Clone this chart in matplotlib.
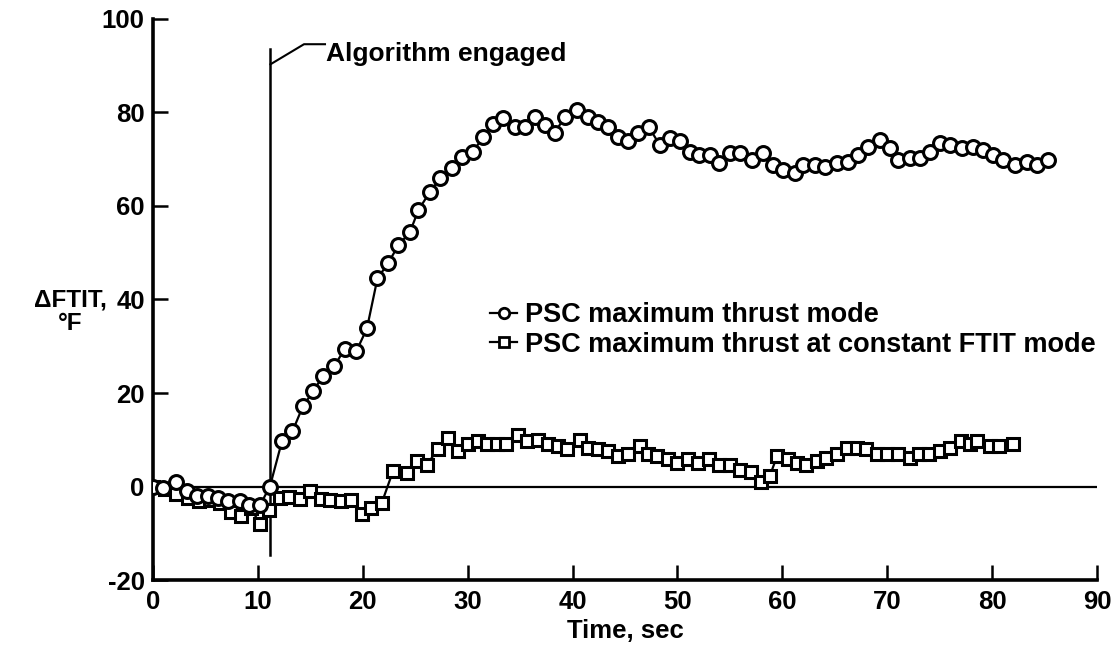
import matplotlib
matplotlib.use('Agg')
import matplotlib.pyplot as plt
from matplotlib.lines import Line2D

plt.rcParams['font.family'] = ['Liberation Sans', 'DejaVu Sans']
plt.rcParams['font.weight'] = 'bold'
plt.rcParams['axes.unicode_minus'] = False

# PSC maximum thrust mode (circles)
t_max = [0.0, 1.0, 2.2, 3.2, 4.2, 5.2, 6.2, 7.2, 8.3, 9.2, 10.2, 11.15,
         12.3, 13.3, 14.3, 15.3, 16.2, 17.3, 18.3, 19.4, 20.4, 21.4, 22.4,
         23.4, 24.5, 25.3, 26.4, 27.4, 28.5, 29.5, 30.5, 31.5, 32.4, 33.4,
         34.5, 35.5, 36.4, 37.4, 38.3, 39.3, 40.4, 41.5, 42.4, 43.4, 44.3,
         45.3, 46.2, 47.3, 48.3, 49.3, 50.2, 51.2, 52.1, 53.1, 54.0, 55.0,
         56.0, 57.1, 58.2, 59.1, 60.1, 61.2, 62.0, 63.1, 64.1, 65.2, 66.3,
         67.2, 68.2, 69.3, 70.3, 71.0, 72.2, 73.1, 74.1, 75.0, 76.0, 77.1,
         78.2, 79.1, 80.1, 81.0, 82.2, 83.3, 84.3, 85.3]
d_max = [0.0, -0.3, 1.0, -1.0, -2.0, -2.0, -2.5, -3.0, -3.2, -4.0, -4.0, 0.0,
         9.7, 11.8, 17.2, 20.4, 23.7, 25.8, 29.5, 29.0, 33.8, 44.5, 47.7,
         51.6, 54.4, 59.1, 63.0, 66.0, 68.2, 70.5, 71.6, 74.8, 77.6, 78.9,
         77.0, 77.0, 79.1, 77.4, 75.7, 79.1, 80.6, 79.1, 78.0, 76.8, 74.8,
         73.8, 75.7, 76.8, 73.1, 74.6, 73.8, 71.6, 71.0, 71.0, 69.2, 71.4,
         71.4, 69.9, 71.4, 68.8, 67.7, 67.1, 68.8, 68.8, 68.4, 69.2, 69.5,
         71.0, 72.7, 74.2, 72.5, 69.9, 70.3, 70.3, 71.6, 73.5, 73.1, 72.5,
         72.7, 72.0, 71.0, 69.9, 68.8, 69.5, 68.8, 69.9]

# PSC maximum thrust at constant FTIT mode (squares)
t_const = [0.0, 1.1, 2.2, 3.3, 4.4, 5.4, 6.4, 7.4, 8.4, 9.3, 10.2, 11.1,
           12.1, 13.0, 14.0, 15.0, 16.0, 16.9, 17.9, 18.9, 19.9, 20.8, 21.8,
           22.9, 24.2, 25.2, 26.1, 27.2, 28.1, 29.1, 30.0, 31.0, 31.8, 32.8,
           33.7, 34.8, 35.7, 36.7, 37.7, 38.6, 39.5, 40.7, 41.5, 42.4, 43.4,
           44.3, 45.3, 46.4, 47.2, 48.1, 49.1, 50.0, 51.0, 52.0, 53.0, 54.0,
           55.0, 56.0, 57.0, 58.0, 58.8, 59.5, 60.5, 61.4, 62.3, 63.3, 64.2,
           65.2, 66.2, 67.1, 68.0, 69.0, 70.0, 71.0, 72.2, 73.0, 74.0, 75.0,
           76.0, 77.0, 77.9, 78.6, 79.8, 80.7, 82.0]
d_const = [0.0, -0.5, -1.5, -2.5, -3.0, -2.8, -3.6, -5.5, -6.2, -4.5, -8.0, -5.0,
           -2.5, -2.2, -2.6, -1.0, -2.6, -2.8, -3.2, -2.8, -5.8, -4.7, -3.6,
           3.4, 2.8, 5.4, 4.7, 8.0, 10.3, 7.5, 9.0, 9.7, 9.2, 9.2,
           9.2, 11.0, 9.7, 10.0, 9.2, 8.6, 8.0, 10.0, 8.2, 8.0, 7.5,
           6.5, 7.0, 8.6, 7.0, 6.5, 5.8, 5.0, 5.8, 5.0, 5.8, 4.7,
           4.7, 3.6, 3.0, 1.0, 2.2, 6.5, 5.8, 5.0, 4.7, 5.4, 6.0,
           7.0, 8.2, 8.2, 8.0, 7.0, 6.9, 7.0, 6.0, 7.0, 7.0, 7.5,
           8.2, 9.7, 9.0, 9.7, 8.6, 8.6, 9.2]

t_engaged = 11.2
x_ticks = [0, 10, 20, 30, 40, 50, 60, 70, 80, 90]
y_ticks = [-20, 0, 20, 40, 60, 80, 100]

fig = plt.figure(figsize=(11.19, 6.54), dpi=100)
ax = fig.add_axes([0.1367, 0.1131, 0.8436, 0.8579])

# reference lines
ax.plot([0, 90], [0, 0], color='black', lw=1.6, zorder=1)
ax.plot([t_engaged, t_engaged], [-14.6, 93.5], color='black', lw=1.8, zorder=1)
ax.plot([t_engaged, 14.4, 16.4], [90.3, 94.6, 94.6], color='black', lw=1.5)
ax.text(16.5, 92.6, 'Algorithm engaged', fontsize=19, fontweight='bold',
        va='center', ha='left')

ax.plot(t_const, d_const, color='black', lw=1.6, marker='s', ms=9,
        mfc='white', mec='black', mew=2.2, zorder=3)
ax.plot(t_max, d_max, color='black', lw=1.6, marker='o', ms=10,
        mfc='white', mec='black', mew=2.2, zorder=4)

ax.set_xlim(0, 90)
ax.set_ylim(-20, 100)
ax.set_xticks(x_ticks)
ax.set_yticks(y_ticks)
ax.tick_params(direction='in', length=11, width=1.8, labelsize=18.5, colors='black')
ax.tick_params(axis='y', pad=6)
ax.tick_params(axis='x', pad=7)
for lab in ax.get_xticklabels() + ax.get_yticklabels():
    lab.set_fontweight('bold')
for s in ['top', 'right']:
    ax.spines[s].set_visible(False)
for s in ['left', 'bottom']:
    ax.spines[s].set_linewidth(2.6)
ax.patch.set_visible(False)

ax.set_xlabel('Time, sec', fontsize=18.5, fontweight='bold', labelpad=4)
fig.text(70 / 1119, 1 - 312 / 654, '\u0394FTIT,\n\u00b0F', fontsize=17.5,
         fontweight='bold', ha='center', va='center', multialignment='center',
         linespacing=1.0)

handles = [
    Line2D([], [], color='black', lw=1.6, marker='o', ms=7.5, mfc='white', mew=2.0),
    Line2D([], [], color='black', lw=1.6, marker='s', ms=7.5, mfc='white', mew=2.0),
]
ax.legend(handles, ['PSC maximum thrust mode',
                    'PSC maximum thrust at constant FTIT mode'],
          loc='upper left', bbox_to_anchor=(0.357, 0.495), frameon=False,
          handlelength=1.0, handletextpad=0.3, labelspacing=0.12,
          borderaxespad=0, borderpad=0, prop={'weight': 'bold', 'size': 19.5})

fig.savefig('out.png', dpi=100)
